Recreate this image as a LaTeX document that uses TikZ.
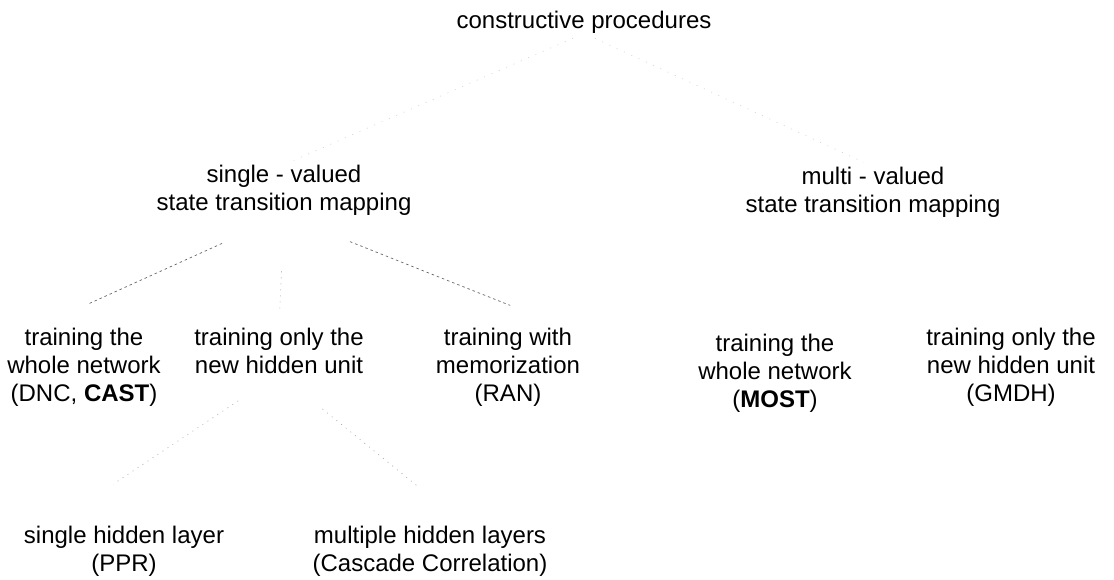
\documentclass[tikz,border=0pt]{standalone}
\usepackage{fontspec}
\setmainfont{Liberation Sans}
\usetikzlibrary{calc}
\begin{document}
\begin{tikzpicture}[x=1pt,y=-1pt,
  lbl/.style={anchor=north, align=center, inner sep=0pt, font=\fontsize{24}{28}\selectfont},
  conn/.style={draw=black!60, line width=0.7pt, dash pattern=on 2.5pt off 3pt},
  weak/.style={draw=black!35, line width=0.6pt, dash pattern=on 1pt off 5pt},
  faint/.style={draw=black!18, line width=0.6pt, dash pattern=on 1pt off 7pt}]
\fill[white] (0,0) rectangle (1114,579);
\useasboundingbox (0,0) rectangle (1114,579);

% tree labels
\node[lbl] (root)   at (584,10.6)  {constructive procedures};
\node[lbl] (single) at (284,164.6) {single - valued\\state transition mapping};
\node[lbl] (multi)  at (873,166.6) {multi - valued\\state transition mapping};

\node[lbl] (whole1) at (84,327.6)  {training the\\whole network\\(DNC, \textbf{CAST})};
\node[lbl] (only1)  at (279,327.6) {training only the\\new hidden unit};
\node[lbl] (memo)   at (508,327.6) {training with\\memorization\\(RAN)};

\node[lbl] (whole2) at (775,333.6) {training the\\whole network\\(\textbf{MOST})};
\node[lbl] (only2)  at (1011,327.6) {training only the\\new hidden unit\\(GMDH)};

\node[lbl] (shl) at (124,525.6) {single hidden layer\\(PPR)};
\node[lbl] (mhl) at (430,525.6) {multiple hidden layers\\(Cascade Correlation)};

% connectors
\draw[faint, shorten <=12pt, shorten >=10pt] (root.south) -- (single.north);
\draw[faint, shorten <=12pt, shorten >=10pt] (root.south) -- (multi.north);

\draw[conn, shorten <=68pt, shorten >=57pt] (single.south) -- ($(whole1.north)+(-48,0)$);
\draw[weak, shorten <=56pt, shorten >=18pt] (single.south) -- (only1.north);
\draw[conn, shorten <=71pt, shorten >=60pt] (single.south) -- ($(memo.north)+(58,0)$);

\draw[weak, shorten <=49pt, shorten >=75pt] (only1.south) -- ($(shl.north)+(-73,0)$);
\draw[weak, shorten <=56pt, shorten >=63pt] (only1.south) -- ($(mhl.north)+(36,0)$);
\end{tikzpicture}
\end{document}
